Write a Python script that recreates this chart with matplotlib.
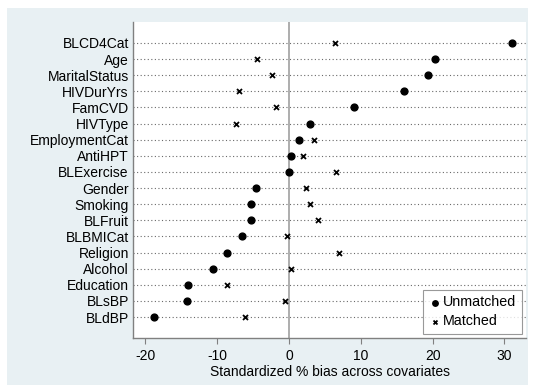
import matplotlib.pyplot as plt
from matplotlib.patches import Rectangle

plt.rcParams['font.family'] = ['Liberation Sans', 'DejaVu Sans']

covariates = ["BLCD4Cat", "Age", "MaritalStatus", "HIVDurYrs", "FamCVD", "HIVType",
              "EmploymentCat", "AntiHPT", "BLExercise", "Gender", "Smoking", "BLFruit",
              "BLBMICat", "Religion", "Alcohol", "Education", "BLsBP", "BLdBP"]
unmatched = [31.1, 20.3, 19.4, 16.0, 9.1, 2.9, 1.35, 0.3, -0.05, -4.6, -5.3, -5.3,
             -6.5, -8.6, -10.6, -14.0, -14.2, -18.8]
matched = [6.4, -4.4, -2.4, -7.0, -1.75, -7.4, 3.5, 2.0, 6.5, 2.4, 2.9, 4.1,
           -0.3, 7.0, 0.3, -8.6, -0.5, -6.1]
xticks = [-20, -10, 0, 10, 20, 30]

W, H = 533, 386
fig = plt.figure(figsize=(W / 100, H / 100), dpi=100)
fig.patch.set_facecolor('white')
fig.patches.append(Rectangle((7 / W, 1 - 385 / H), (528 - 7) / W, (385 - 8) / H,
                             transform=fig.transFigure, facecolor='#e8f0f3',
                             edgecolor='none', zorder=-1))
ax = fig.add_axes([133 / W, 1 - 338 / H, (526 - 133) / W, (338 - 22) / H])
ax.set_facecolor('white')

fs = 10
n = len(covariates)
ypos = list(range(n))
for y in ypos:
    ax.axhline(y, color='#6a6a6a', linestyle=(0, (1, 2.2)), linewidth=0.8, zorder=1)
ax.axvline(0, color='#a0a0a0', linewidth=1.2, zorder=1)

ax.scatter(unmatched, ypos, marker='o', s=24, color='black', zorder=3, label='Unmatched')
ax.scatter(matched, ypos, marker='x', s=13, color='black', linewidths=1.3, zorder=3,
           label='Matched')

ax.set_ylim(n - 1 + 1.3, -1.3)
ax.set_xlim(-21.7, 33.0)
ax.set_yticks(ypos)
ax.set_yticklabels(covariates, fontsize=fs)
ax.set_xticks(xticks)
ax.set_xticklabels([str(t) for t in xticks], fontsize=fs)
ax.tick_params(axis='y', length=0, pad=3)
ax.tick_params(axis='x', length=4, color='#808080', pad=4)
for side in ['top', 'right']:
    ax.spines[side].set_visible(False)
for side in ['left', 'bottom']:
    ax.spines[side].set_color('#808080')
    ax.spines[side].set_linewidth(1.0)
ax.set_xlabel("Standardized % bias across covariates", fontsize=fs, labelpad=1)

leg = ax.legend(loc='lower right', fontsize=fs + 0.3, frameon=True, fancybox=False,
                edgecolor='#808080', handletextpad=0.2, borderpad=0.4,
                handlelength=0.8, labelspacing=0.35, bbox_to_anchor=(0.99, 0.012),
                borderaxespad=0, markerscale=0.8)
leg.get_frame().set_linewidth(0.8)

fig.savefig('out.png', dpi=100)
